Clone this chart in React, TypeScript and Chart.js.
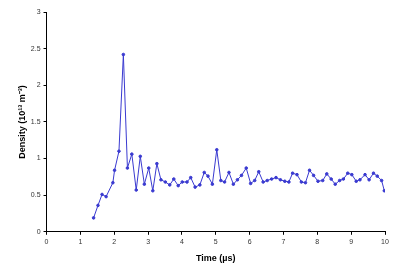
import React, { useEffect, useRef } from "react";
import { Chart, registerables } from "chart.js";
Chart.register(...registerables);

const timeUs = [1.39, 1.52, 1.64, 1.76, 1.96, 2.01, 2.14, 2.27, 2.39, 2.52, 2.65, 2.77, 2.89, 3.02, 3.14, 3.26, 3.38, 3.51, 3.64, 3.76, 3.89, 4.01, 4.15, 4.26, 4.39, 4.53, 4.66, 4.77, 4.9, 5.03, 5.15, 5.26, 5.39, 5.52, 5.64, 5.76, 5.9, 6.03, 6.15, 6.27, 6.4, 6.52, 6.65, 6.78, 6.91, 7.04, 7.16, 7.27, 7.4, 7.53, 7.65, 7.77, 7.89, 8.02, 8.16, 8.28, 8.41, 8.53, 8.66, 8.77, 8.9, 9.02, 9.15, 9.26, 9.41, 9.53, 9.66, 9.77, 9.9, 9.98];
const density = [0.19, 0.36, 0.51, 0.48, 0.67, 0.84, 1.1, 2.42, 0.87, 1.06, 0.57, 1.03, 0.65, 0.87, 0.56, 0.93, 0.71, 0.68, 0.64, 0.72, 0.63, 0.68, 0.68, 0.74, 0.61, 0.64, 0.81, 0.76, 0.65, 1.12, 0.7, 0.68, 0.81, 0.65, 0.71, 0.77, 0.87, 0.66, 0.7, 0.82, 0.68, 0.7, 0.72, 0.74, 0.71, 0.69, 0.68, 0.8, 0.78, 0.68, 0.67, 0.84, 0.77, 0.69, 0.7, 0.79, 0.72, 0.65, 0.7, 0.72, 0.8, 0.78, 0.69, 0.71, 0.78, 0.71, 0.8, 0.76, 0.7, 0.56];
const xTitle = "Time (µs)";
const yTitle = "Density (10¹³ m⁻³)";

export default function App() {
  const ref = useRef<HTMLCanvasElement>(null);
  useEffect(() => {
    const pts = timeUs.map((x, i) => ({ x, y: density[i] }));
    const tickFont = { family: "Liberation Sans, Arial, sans-serif", size: 7 };
    const titleFont = { family: "Liberation Sans, Arial, sans-serif", size: 9, weight: "bold" as const };
    const chart = new Chart(ref.current!, {
      type: "scatter",
      data: {
        datasets: [
          {
            data: pts,
            showLine: true,
            borderColor: "#3a3ad0",
            backgroundColor: "#3a3ad0",
            borderWidth: 1,
            pointRadius: 1.3,
            pointHoverRadius: 1.3,
          },
        ],
      },
      options: {
        animation: false,
        responsive: false,
        plugins: { legend: { display: false }, tooltip: { enabled: false } },
        layout: { padding: { left: 17, right: 15, top: 12, bottom: 6 } },
        scales: {
          x: {
            type: "linear",
            min: 0,
            max: 10,
            ticks: { stepSize: 1, font: tickFont, color: "#333", padding: 3 },
            grid: { drawOnChartArea: false, tickLength: 3, color: "#000" },
            border: { color: "#000" },
            title: { display: true, text: xTitle, font: titleFont, color: "#000", padding: { top: 4, bottom: 0 } },
          },
          y: {
            min: 0,
            max: 3,
            ticks: { stepSize: 0.5, font: tickFont, color: "#333", padding: 3, callback: (v: any) => String(v) },
            grid: { drawOnChartArea: false, tickLength: 3, color: "#000" },
            border: { color: "#000" },
            title: { display: true, text: yTitle, font: titleFont, color: "#000", padding: { top: 0, bottom: 0 } },
          },
        },
      },
    });
    return () => chart.destroy();
  }, []);
  return (
    <div style={{ position: "fixed", left: 0, top: 0, width: 400, height: 270, background: "#fff" }}>
      <canvas ref={ref} width={400} height={270} style={{ width: 400, height: 270 }} />
    </div>
  );
}
